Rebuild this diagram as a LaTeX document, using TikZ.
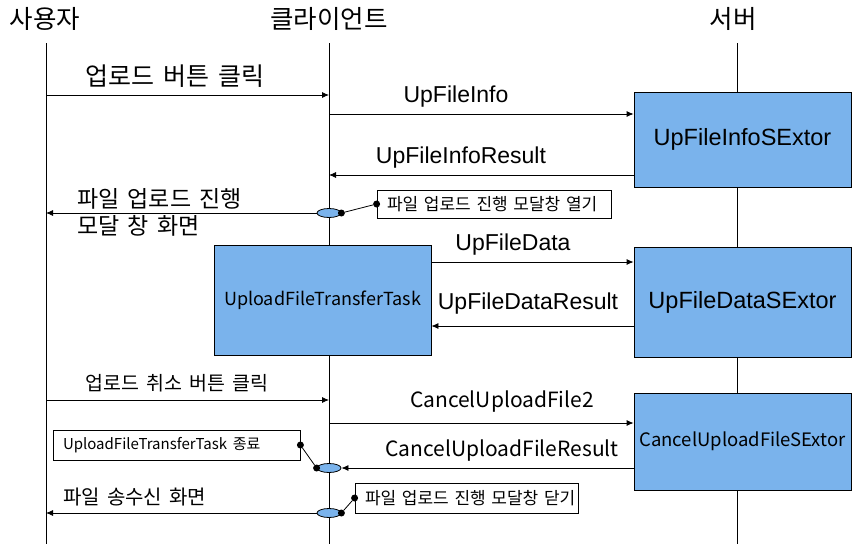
\documentclass[tikz,border=0pt]{standalone}
\usepackage{fontspec}
\setmainfont{Liberation Sans}
\newfontfamily\kr[WordSpace=1.6]{Noto Sans CJK KR}
\usetikzlibrary{arrows.meta,shapes.geometric}
\definecolor{boxblue}{RGB}{122,179,236}
\begin{document}
\begin{tikzpicture}[
  x=1pt, y=-1pt,
  lifeline/.style={draw=black,line width=0.8pt},
  flow/.style={draw=black,line width=0.8pt,-{Latex[length=7pt,width=6pt]}},
  box/.style={draw=black,line width=0.8pt,fill=boxblue,minimum width=217pt,inner sep=0pt},
  note/.style={draw=black,line width=0.8pt,fill=white,inner xsep=10pt,inner ysep=0pt,minimum height=29pt,align=left,font=\kr\fontsize{17}{20}\selectfont},
  act/.style={ellipse,draw=black,line width=0.8pt,fill=boxblue,minimum width=24pt,minimum height=9pt,inner sep=0pt},
  dot/.style={circle,fill=black,inner sep=0pt,minimum size=7pt},
  head/.style={inner sep=0pt,font=\kr\fontsize{25.5}{28}\selectfont},
  msg/.style={inner sep=0pt,font=\fontsize{23}{26}\selectfont},
  kmsg/.style={inner sep=0pt,font=\kr\fontsize{25}{27}\selectfont},
  cmsg/.style={inner sep=0pt,font=\kr\fontsize{21}{25}\selectfont}
]
  \useasboundingbox (0,0) rectangle (852,544);

  % actors
  \node[head] (user)   at (45, 19)  {사용자};
  \node[head] (client) at (329, 19) {클라이언트};
  \node[head] (server) at (733, 19) {서버};

  \coordinate (ut) at (46, 43);  \coordinate (ub) at (46, 544);
  \coordinate (ct) at (329, 43); \coordinate (cb) at (329, 544);
  \coordinate (st) at (737, 43); \coordinate (sb) at (737, 544);
  \draw[lifeline] (ut) -- (ub);
  \draw[lifeline] (ct) -- (cb);
  \draw[lifeline] (st) -- (sb);

  % boxes
  \node[box,minimum height=95pt]  (info)   at (742.5, 139.5) {\fontsize{23.5}{26}\selectfont UpFileInfoSExtor};
  \node[box,minimum height=110pt] (data)   at (742.5, 302)   {\fontsize{23.5}{26}\selectfont UpFileDataSExtor};
  \node[box,minimum height=97pt]  (cancel) at (742.5, 441.5) {\kr\fontsize{18.5}{22}\selectfont CancelUploadFileSExtor};
  \node[box,minimum height=110pt] (task)   at (322.5, 300)   {\kr\fontsize{18}{20}\selectfont UploadFileTransferTask};

  % upload
  \coordinate (u1) at (46, 95); \coordinate (c1) at (329, 95);
  \draw[flow] (u1) -- (c1);
  \node[kmsg] (l1) at (175, 76) {업로드 버튼 클릭};

  \coordinate (c2) at (329, 114);
  \draw[flow] (c2) -- (c2 -| info.west);
  \node[msg] (l2) at (456, 97) {UpFileInfo};

  \coordinate (s3) at (634, 175);
  \draw[flow] (s3) -- (s3 -| ct);
  \node[msg] (l3) at (461, 158) {UpFileInfoResult};

  \node[act] (a1) at (329, 213) {};
  \draw[flow] (a1.west) -- (a1.west -| ut);
  \node[kmsg,anchor=west,align=left,font=\kr\fontsize{23}{27}\selectfont] (l4) at (77, 212) {파일 업로드 진행\\모달 창 화면};
  \node[note,text width=214pt,minimum height=28pt] (n1) at (494, 204) {\mbox{파일 업로드 진행 모달창 열기}};
  \node[dot] (d1a) at (a1.east) {};
  \node[dot] (d1b) at (n1.west) {};
  \draw[line width=0.8pt] (d1a) -- (d1b);

  % data
  \coordinate (t5) at (431, 262);
  \draw[flow] (t5) -- (t5 -| data.west);
  \node[msg] (l5) at (513, 245) {UpFileData};

  \coordinate (s6) at (634, 326);
  \draw[flow] (s6) -- (s6 -| task.east);
  \node[msg] (l6) at (528, 304) {UpFileDataResult};

  % cancel
  \coordinate (u7) at (46, 400); \coordinate (c7) at (329, 400);
  \draw[flow] (u7) -- (c7);
  \node[kmsg,font=\kr\fontsize{19.5}{23}\selectfont] (l7) at (177, 383) {업로드 취소 버튼 클릭};

  \coordinate (c8) at (329, 423);
  \draw[flow] (c8) -- (c8 -| cancel.west);
  \node[cmsg] (l8) at (502, 402) {CancelUploadFile2};

  \node[act] (a2) at (329, 468) {};
  \coordinate (s9) at (634, 468);
  \draw[flow] (s9) -- (a2.east);
  \node[cmsg] (l9) at (502, 451) {CancelUploadFileResult};
  \node[note,text width=227pt,minimum height=30pt] (n2) at (176.5, 445) {\fontsize{15}{18}\selectfont UploadFileTransferTask {\kr 종료}};
  \node[dot] (d2a) at (a2.west) {};
  \node[dot] (d2b) at (n2.east) {};
  \draw[line width=0.8pt] (d2a) -- (d2b);

  \node[act] (a3) at (329, 513) {};
  \draw[flow] (a3.west) -- (a3.west -| ut);
  \node[kmsg,anchor=west,font=\kr\fontsize{20}{24}\selectfont] (l10) at (63, 497) {파일 송수신 화면};
  \node[note,text width=203pt,minimum height=30pt] (n3) at (466.5, 498) {\mbox{파일 업로드 진행 모달창 닫기}};
  \node[dot] (d3a) at (a3.east) {};
  \node[dot] (d3b) at (n3.west) {};
  \draw[line width=0.8pt] (d3a) -- (d3b);
\end{tikzpicture}
\end{document}
